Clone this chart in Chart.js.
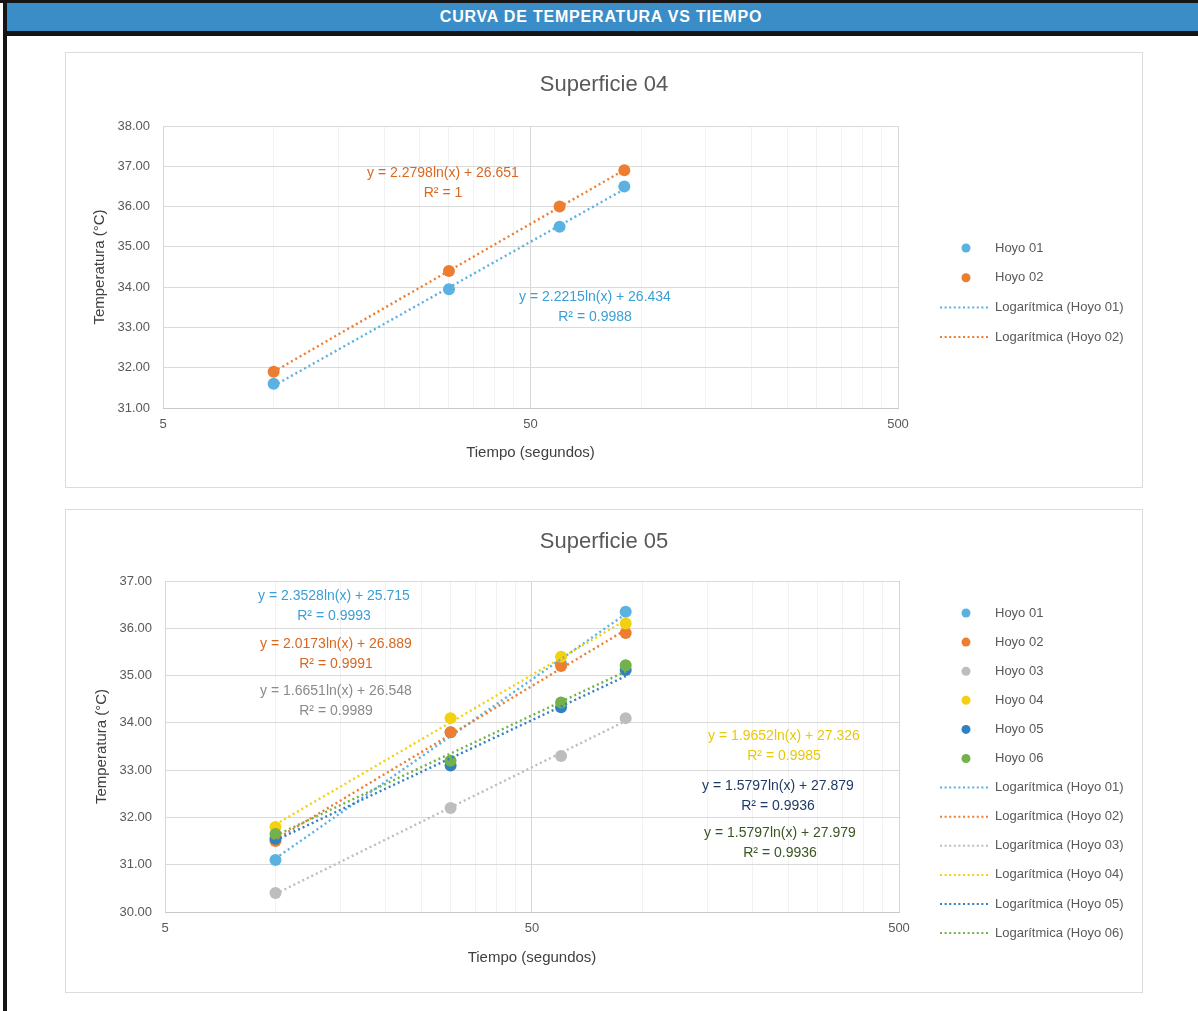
<!DOCTYPE html>
<html lang="es">
<head>
<meta charset="utf-8">
<title>Curva de temperatura vs tiempo</title>
<script src="https://cdn.jsdelivr.net/npm/chart.js@4.4.1/dist/chart.umd.min.js"></script>
<style>
  html, body { margin: 0; padding: 0; background: #fff; }
  body { width: 1198px; height: 1011px; position: relative; overflow: hidden;
         font-family: "Liberation Sans", Arial, sans-serif; }
  #topline { position: absolute; left: 0; top: 0; width: 1198px; height: 3px; background: #151515; }
  #banner { position: absolute; left: 4px; top: 3px; width: 1194px; height: 28px; background: #3b8dc7;
            color: #fff; font-weight: bold; font-size: 16px; letter-spacing: 0.8px;
            line-height: 28px; text-align: center; }
  #rule { position: absolute; left: 4px; top: 31px; width: 1194px; height: 5px; background: #151515; }
  #leftrule { position: absolute; left: 3px; top: 0; width: 4px; height: 1011px; background: #151515; }
  .box { position: absolute; left: 66px; width: 1076px; outline: 1px solid #dcdcdc; background: #fff; }
  #box1 { top: 53px; height: 434px; }
  #box2 { top: 510px; height: 482px; }
  canvas { display: block; }
</style>
</head>
<body>
<div id="topline"></div>
<div id="banner">CURVA DE TEMPERATURA VS TIEMPO</div>
<div id="rule"></div>
<div id="leftrule"></div>
<div class="box" id="box1"><canvas id="sup04" width="1076" height="434"></canvas></div>
<div class="box" id="box2"><canvas id="sup05" width="1076" height="482"></canvas></div>

<script>
// Time of each reading (s)
const TIEMPO = [10, 30, 60, 90];

// Superficie 04 — temperature per hole (°C)
const S04_HOYO01 = [31.60, 33.95, 35.50, 36.50];
const S04_HOYO02 = [31.90, 34.40, 36.00, 36.90];

// Superficie 05 — temperature per hole (°C)
const S05_HOYO01 = [31.10, 33.80, 35.25, 36.35];
const S05_HOYO02 = [31.50, 33.80, 35.20, 35.90];
const S05_HOYO03 = [30.40, 32.20, 33.30, 34.10];
const S05_HOYO04 = [31.80, 34.10, 35.40, 36.10];
const S05_HOYO05 = [31.55, 33.10, 34.33, 35.12];
const S05_HOYO06 = [31.65, 33.20, 34.43, 35.22];

// Logarithmic trend lines: y = a·ln(x) + b
const S04_TREND_A = [2.2215, 2.2798];
const S04_TREND_B = [26.434, 26.651];
const S04_TREND_R2 = ['0.9988', '1'];
const S05_TREND_A = [2.3528, 2.0173, 1.6651, 1.9652, 1.5797, 1.5797];
const S05_TREND_B = [25.715, 26.889, 26.548, 27.326, 27.879, 27.979];
const S05_TREND_R2 = ['0.9993', '0.9991', '0.9989', '0.9985', '0.9936', '0.9936'];

const HOYOS = ['Hoyo 01', 'Hoyo 02', 'Hoyo 03', 'Hoyo 04', 'Hoyo 05', 'Hoyo 06'];

// Axis ticks
const X_TICK_LABELS = [5, 50, 500];
const S04_Y_RANGE = [31, 38];
const S05_Y_RANGE = [30, 37];

const POINT_COLORS = ['#5bb1e0', '#ed7d31', '#bdbdbd', '#f4d012', '#3080c2', '#73b14b'];
const LABEL_COLORS = ['#3a9fd4', '#d9671f', '#8a8a8a', '#e9c80c', '#1f3a66', '#3a5520'];
const FONT = '"Liberation Sans", Arial, sans-serif';
const TEXT_GREY = '#595959';

// Minor log ticks every 1/10 of a decade starting at the axis minimum (5, 10, 15 … 500)
function logTicks(min, max) {
  const ticks = [];
  for (let d = min; d < max; d *= 10) {
    for (let k = 1; k <= 10; k++) ticks.push(d * k);
  }
  return Array.from(new Set(ticks)).filter(v => v <= max).map(v => ({ value: v }));
}

function formatLabel(a, b, r2) {
  return ['y = ' + a.toFixed(4) + 'ln(x) + ' + b.toFixed(3), 'R² = ' + r2];
}

// Chart heading centred across the whole canvas (legend column included)
const canvasTitle = {
  id: 'canvasTitle',
  afterDraw(chart, args, opts) {
    const ctx = chart.ctx;
    ctx.save();
    ctx.font = '22px ' + FONT;
    ctx.fillStyle = TEXT_GREY;
    ctx.textAlign = 'center';
    ctx.textBaseline = 'middle';
    ctx.fillText(opts.text, chart.width / 2, opts.y);
    ctx.restore();
  }
};

// Side legend: markers for the hole series, dotted samples for the trend lines
const sideLegend = {
  id: 'sideLegend',
  afterDraw(chart, args, opts) {
    const ctx = chart.ctx;
    ctx.save();
    ctx.font = '13px ' + FONT;
    ctx.textBaseline = 'middle';
    ctx.textAlign = 'left';
    chart.data.datasets.forEach((ds, i) => {
      const y = opts.top + i * opts.step;
      if (ds.isTrend) {
        ctx.strokeStyle = ds.borderColor;
        ctx.lineWidth = 2;
        ctx.setLineDash([2, 2.6]);
        ctx.beginPath();
        ctx.moveTo(opts.lineX0, y);
        ctx.lineTo(opts.lineX1, y);
        ctx.stroke();
        ctx.setLineDash([]);
      } else {
        ctx.fillStyle = ds.backgroundColor;
        ctx.beginPath();
        ctx.arc(opts.markX, y, 4.5, 0, Math.PI * 2);
        ctx.fill();
      }
      ctx.fillStyle = TEXT_GREY;
      ctx.fillText(ds.label, opts.textX, y);
    });
    ctx.restore();
  }
};

// Trend equations and R² written next to the lines
const trendLabels = {
  id: 'trendLabels',
  afterDraw(chart, args, opts) {
    const ctx = chart.ctx;
    ctx.save();
    ctx.font = '14px ' + FONT;
    ctx.textAlign = 'center';
    ctx.textBaseline = 'middle';
    let t = 0;
    chart.data.datasets.forEach(ds => {
      if (!ds.isTrend) return;
      const [px, py] = opts.positions[t];
      ctx.fillStyle = opts.colors[t];
      ds.equation.forEach((line, j) => ctx.fillText(line, px, py + j * 20));
      t++;
    });
    ctx.restore();
  }
};

function buildChart(id, cfg) {
  const datasets = [];
  cfg.series.forEach((vals, i) => {
    datasets.push({
      label: HOYOS[i],
      data: TIEMPO.map((x, k) => ({ x, y: vals[k] })),
      backgroundColor: POINT_COLORS[i],
      borderWidth: 0,
      pointRadius: 6,
      pointHoverRadius: 6,
      showLine: false,
      order: 100 - i
    });
  });
  cfg.trendA.forEach((a, i) => {
    const b = cfg.trendB[i];
    datasets.push({
      label: 'Logarítmica (' + HOYOS[i] + ')',
      isTrend: true,
      equation: formatLabel(a, b, cfg.trendR2[i]),
      data: TIEMPO.map(x => ({ x, y: a * Math.log(x) + b })),
      borderColor: POINT_COLORS[i],
      borderWidth: 2.4,
      borderDash: [2, 3],
      pointRadius: 0,
      showLine: true,
      fill: false,
      order: 50 - i
    });
  });

  return new Chart(document.getElementById(id), {
    type: 'scatter',
    data: { datasets },
    options: {
      responsive: false,
      animation: false,
      events: [],
      layout: { padding: { top: cfg.padTop, right: cfg.padRight, bottom: 0, left: 0 } },
      plugins: {
        legend: { display: false },
        tooltip: { enabled: false },
        title: { display: false },
        canvasTitle: { text: cfg.title, y: cfg.titleY },
        sideLegend: cfg.legend,
        trendLabels: { positions: cfg.labelPos, colors: LABEL_COLORS }
      },
      scales: {
        x: {
          type: 'logarithmic',
          min: 5,
          max: 500,
          afterBuildTicks: s => { s.ticks = logTicks(5, 500); },
          afterFit: s => { s.height = cfg.xHeight; },
          ticks: {
            autoSkip: false,
            maxRotation: 0,
            padding: 9,
            color: TEXT_GREY,
            font: { family: FONT, size: 13 },
            callback: v => (X_TICK_LABELS.includes(v) ? String(v) : '')
          },
          grid: {
            drawTicks: false,
            color: c => (X_TICK_LABELS.includes(c.tick && c.tick.value) ? '#d6d6d6' : '#f2f2f2'),
            lineWidth: 1
          },
          border: { color: '#c8c8c8' },
          title: {
            display: true,
            text: 'Tiempo (segundos)',
            color: '#404040',
            font: { family: FONT, size: 15 },
            padding: { top: 0, bottom: 25 }
          }
        },
        y: {
          min: cfg.yRange[0],
          max: cfg.yRange[1],
          afterFit: s => { s.width = cfg.yWidth; },
          ticks: {
            stepSize: 1,
            padding: 13,
            color: TEXT_GREY,
            font: { family: FONT, size: 13 },
            callback: v => Number(v).toFixed(2)
          },
          grid: { drawTicks: false, color: '#dadada' },
          border: { display: false },
          title: {
            display: true,
            text: 'Temperatura (°C)',
            color: '#404040',
            font: { family: FONT, size: 15 },
            padding: { top: cfg.yTitlePad, bottom: 0 }
          }
        }
      }
    },
    plugins: [canvasTitle, sideLegend, trendLabels]
  });
}

buildChart('sup04', {
  title: 'Superficie 04',
  titleY: 32,
  series: [S04_HOYO01, S04_HOYO02],
  trendA: S04_TREND_A, trendB: S04_TREND_B, trendR2: S04_TREND_R2,
  yRange: S04_Y_RANGE,
  padTop: 73, padRight: 244, xHeight: 79, yWidth: 97, yTitlePad: 25,
  legend: { markX: 900, lineX0: 874, lineX1: 924, textX: 929, top: 195, step: 29.7 },
  labelPos: [[529, 244], [377, 120]]
});

buildChart('sup05', {
  title: 'Superficie 05',
  titleY: 32,
  series: [S05_HOYO01, S05_HOYO02, S05_HOYO03, S05_HOYO04, S05_HOYO05, S05_HOYO06],
  trendA: S05_TREND_A, trendB: S05_TREND_B, trendR2: S05_TREND_R2,
  yRange: S05_Y_RANGE,
  padTop: 71, padRight: 243, xHeight: 80, yWidth: 99, yTitlePad: 27,
  legend: { markX: 900, lineX0: 874, lineX1: 924, textX: 929, top: 103, step: 29.1 },
  labelPos: [[268, 86], [270, 134], [270, 181], [718, 226], [712, 276], [714, 323]]
});
</script>
</body>
</html>
